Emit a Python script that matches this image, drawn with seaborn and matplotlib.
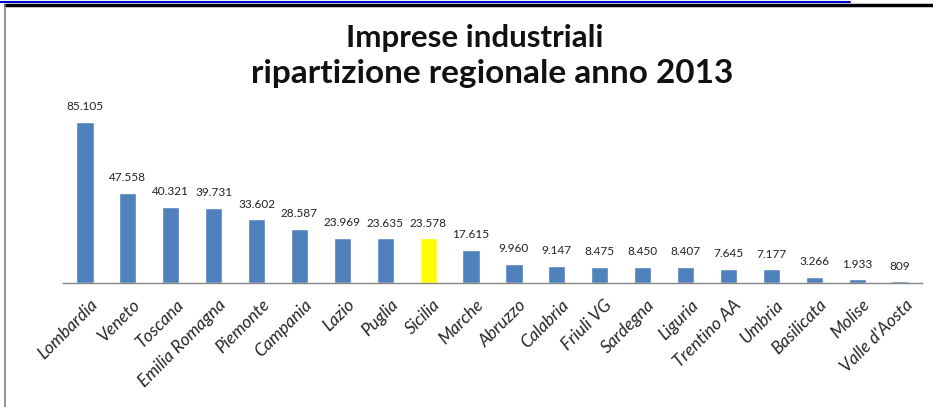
import matplotlib
matplotlib.use('Agg')
import matplotlib.pyplot as plt
import matplotlib.transforms as mtransforms
from matplotlib.lines import Line2D
import seaborn as sns
import pandas as pd

regioni = ['Lombardia', 'Veneto', 'Toscana', 'Emilia Romagna', 'Piemonte', 'Campania',
           'Lazio', 'Puglia', 'Sicilia', 'Marche', 'Abruzzo', 'Calabria', 'Friuli VG',
           'Sardegna', 'Liguria', 'Trentino AA', 'Umbria', 'Basilicata', 'Molise',
           "Valle d'Aosta"]
imprese = [85105, 47558, 40321, 39731, 33602, 28587, 23969, 23635, 23578, 17615,
           9960, 9147, 8475, 8450, 8407, 7645, 7177, 3266, 1933, 809]
evidenziata = 'Sicilia'

sns.set_theme(style='white')
plt.rcParams['font.family'] = ['Lato', 'DejaVu Sans']

df = pd.DataFrame({'regione': regioni, 'imprese': imprese})
palette = {r: ('#FFFF00' if r == evidenziata else '#4F81BD') for r in regioni}

fig = plt.figure(figsize=(9.33, 4.07), dpi=100)
ax = fig.add_axes([63.5 / 933, 124 / 407, 858 / 933, 183 / 407])

sns.barplot(data=df, x='regione', y='imprese', hue='regione', palette=palette,
            width=0.4, legend=False, ax=ax, saturation=1)

ax.set_xlim(-0.5, len(regioni) - 0.5)
ax.set_ylim(0, 96700)
ax.set_xlabel('')
ax.set_ylabel('')
ax.set_yticks([])
for s in ['top', 'right', 'left']:
    ax.spines[s].set_visible(False)
ax.spines['bottom'].set_color('#868686')
ax.spines['bottom'].set_linewidth(1)
ax.tick_params(axis='x', length=0, pad=14)

# etichette valori sopra le barre
for i, v in enumerate(imprese):
    ax.annotate(f'{v:,}'.replace(',', '.'), (i, v), xytext=(0, 7),
                textcoords='offset points', ha='center', va='bottom',
                fontsize=8.5, color='#222222')

ax.set_xticks(range(len(regioni)))
ax.set_xticklabels(regioni, rotation=45, ha='right', va='center',
                   rotation_mode='anchor', fontsize=12.5, style='italic')
offset = mtransforms.ScaledTranslation(10 / 100, 0, fig.dpi_scale_trans)
for lbl in ax.get_xticklabels():
    lbl.set_transform(lbl.get_transform() + offset)

fig.text(475 / 933, 1 - 38 / 407, 'Imprese industriali', ha='center', va='center',
         fontsize=22.5, fontweight='bold', color='#111111')
fig.text(492 / 933, 1 - 73 / 407, 'ripartizione regionale anno 2013', ha='center',
         va='center', fontsize=24, fontweight='bold', color='#111111')

# cornice
fig.add_artist(Line2D([0, 850 / 933], [1 - 1.5 / 407] * 2, color='#0000CC', lw=1.5))
fig.add_artist(Line2D([5 / 933, 1], [1 - 5 / 407] * 2, color='black', lw=2.5))
fig.add_artist(Line2D([5 / 933] * 2, [0, 1 - 5 / 407], color='#808080', lw=1.2))

plt.savefig('out.png', dpi=100)
plt.close(fig)
